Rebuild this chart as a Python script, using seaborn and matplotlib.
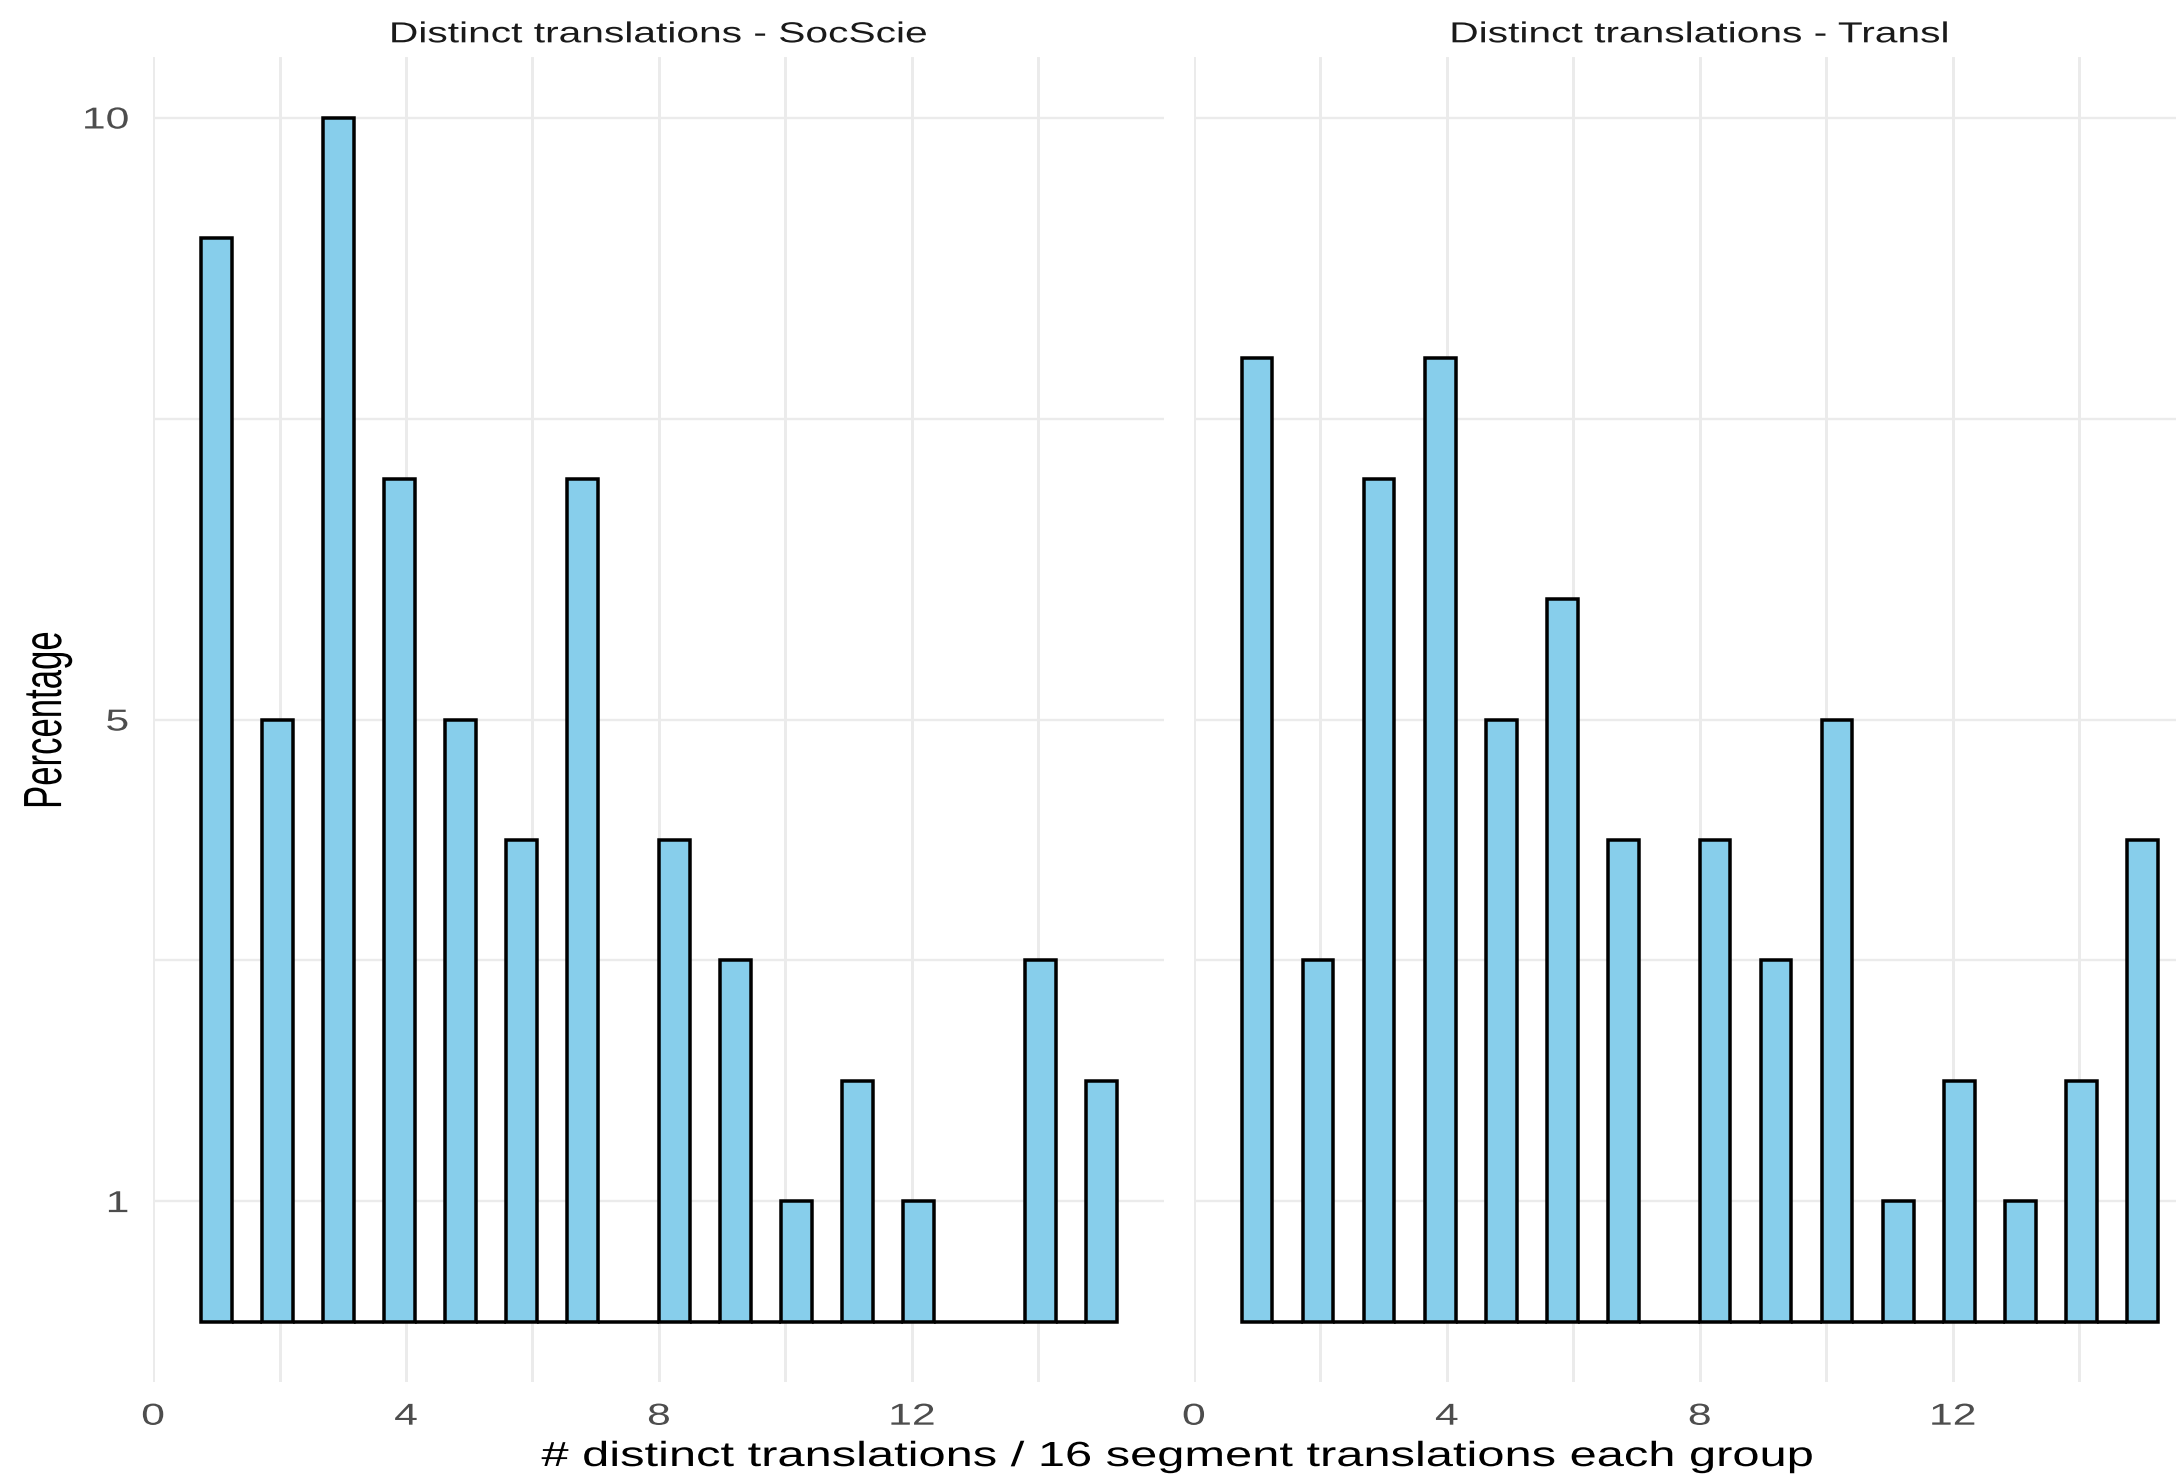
import numpy as np
import pandas as pd
import matplotlib
matplotlib.use("Agg")
import matplotlib.pyplot as plt
import seaborn as sns
from matplotlib.patheffects import AbstractPathEffect
from matplotlib.transforms import Affine2D

# ---- data -------------------------------------------------------------
n_distinct = list(range(1, 16))
socscie_pct = [9, 5, 10, 7, 5, 4, 7, 4, 3, 1, 2, 1, 0, 3, 2]
transl_pct = [8, 3, 7, 8, 5, 6, 4, 4, 3, 5, 1, 2, 1, 2, 4]
panel_titles = ["Distinct translations - SocScie", "Distinct translations - Transl"]
x_ticks = [0, 4, 8, 12]
x_minor = [2, 6, 10, 14]
y_ticks = [1, 5, 10]
y_minor = [3, 7.5]
x_title = "# distinct translations / 16 segment translations each group"
y_title = "Percentage"

# 30 bins spanning the data range, centred on min and max
n_bins = 30
lo, hi = min(n_distinct), max(n_distinct)
bw = (hi - lo) / (n_bins - 1)
edges = [float(e) for e in np.linspace(lo - bw / 2, hi + bw / 2, n_bins + 1)]


class HStretch(AbstractPathEffect):
    """Widen glyph outlines horizontally around a chosen anchor."""

    def __init__(self, sx, anchor="center"):
        super().__init__()
        self.sx = sx
        self.anchor = anchor

    def draw_path(self, renderer, gc, tpath, affine, rgbFace=None):
        ext = affine.transform_path(tpath).get_extents()
        if self.anchor == "right":
            cx = ext.x1
        elif self.anchor == "left":
            cx = ext.x0
        else:
            cx = 0.5 * (ext.x0 + ext.x1)
        aff = affine + Affine2D().translate(-cx, 0).scale(self.sx, 1).translate(cx, 0)
        renderer.draw_path(gc, tpath, aff, rgbFace)


sns.set_theme(style="white")
plt.rcParams["font.family"] = ["Liberation Sans", "DejaVu Sans"]

W, H = 2176, 1474
fig = plt.figure(figsize=(W / 100, H / 100), dpi=100)

px = lambda v: v * 72 / 100  # pixels -> points

panel_left = [152.7, 1193.5]
panel_w = 1011.0
panel_top, panel_bot = 57.3, 1381.7
STR = 1.41

for i, (vals, title) in enumerate(zip([socscie_pct, transl_pct], panel_titles)):
    ax = fig.add_axes([panel_left[i] / W, 1 - panel_bot / H,
                       panel_w / W, (panel_bot - panel_top) / H])
    df = pd.DataFrame({"n": n_distinct, "pct": vals})
    sns.histplot(data=df, x="n", weights="pct", bins=edges, stat="count",
                 color="#87CEEB", edgecolor="black", linewidth=px(3.5),
                 alpha=1, ax=ax)
    ax.set_xlim(-0.005, 15.98)
    ax.set_ylim(-0.5, 10.5)
    ax.set_xticks(x_ticks, [str(t) for t in x_ticks])
    ax.set_xticks(x_minor, minor=True)
    ax.set_yticks(y_ticks, [str(t) for t in y_ticks])
    ax.set_yticks(y_minor, minor=True)
    ax.set_axisbelow(True)
    ax.xaxis.grid(True, which="both", color="#EBEBEB", lw=px(3.0))
    ax.yaxis.grid(True, which="both", color="#EBEBEB", lw=px(2.4))
    for s in ax.spines.values():
        s.set_visible(False)
    ax.tick_params(axis="both", which="both", length=0, labelsize=21.8,
                   labelcolor="#4D4D4D")
    ax.tick_params(axis="x", pad=px(21))
    ax.tick_params(axis="y", pad=px(24))
    ax.set_xlabel("")
    ax.set_ylabel("")
    for lab in ax.get_xticklabels():
        lab.set_path_effects([HStretch(STR, "center")])
    if i == 0:
        for lab in ax.get_yticklabels():
            lab.set_path_effects([HStretch(STR, "right")])
    else:
        ax.tick_params(axis="y", labelleft=False)
    ax.set_title(title, fontsize=20.8, color="#1A1A1A", pad=px(15),
                 path_effects=[HStretch(STR, "center")])

fig.text(1178.7 / W, 1 - 1466 / H, x_title, ha="center", va="baseline",
         fontsize=25.1, color="black", path_effects=[HStretch(1.40, "center")])
fig.text(47 / W, 1 - 720 / H, y_title, ha="center", va="center", rotation=90,
         fontsize=25.0, color="black", path_effects=[HStretch(1.55, "center")])

fig.savefig("out.png", dpi=100)
